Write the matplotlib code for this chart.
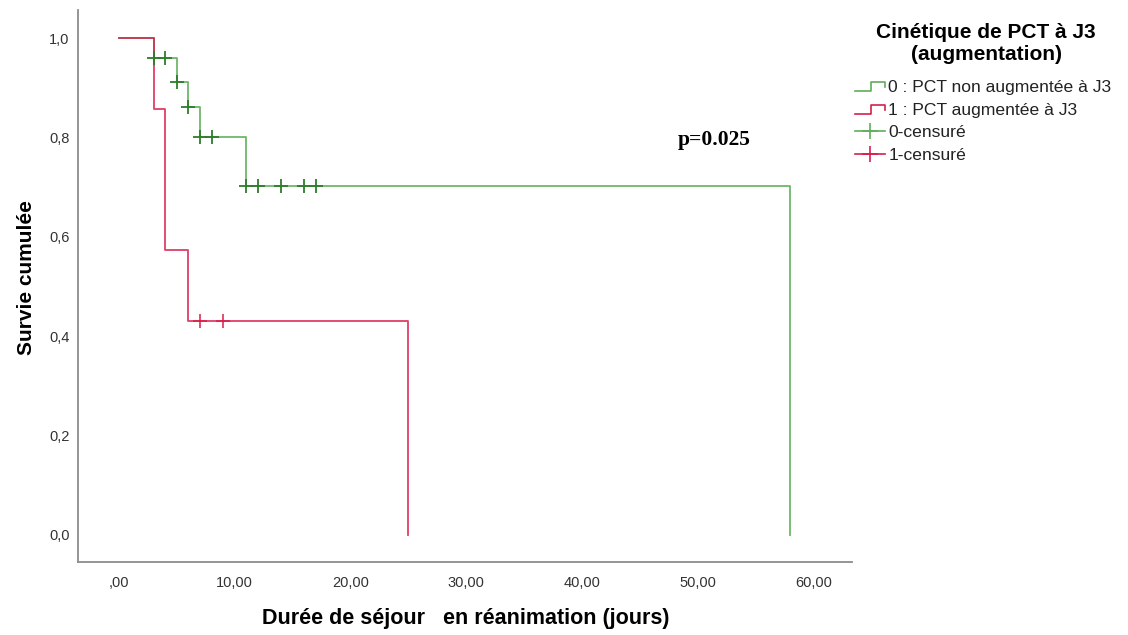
"""Courbes de Kaplan-Meier : survie selon la cinétique de la PCT à J3."""
import numpy as np
import matplotlib
matplotlib.use("Agg")
import matplotlib.pyplot as plt
from matplotlib.lines import Line2D
from matplotlib.legend_handler import HandlerBase
import matplotlib.ticker as tkr

plt.rcParams['font.family'] = ['Liberation Sans', 'DejaVu Sans']

# groupe 0 : PCT non augmentée à J3
t0 = [0, 3, 5, 6, 7, 11, 58]
s0 = [1.0, 0.961, 0.913, 0.861, 0.801, 0.703, 0.0]
cens0 = [3, 4, 5, 6, 7, 8, 11, 12, 14, 16, 17]

# groupe 1 : PCT augmentée à J3
t1 = [0, 3, 4, 6, 25]
s1 = [1.0, 0.858, 0.573, 0.430, 0.0]
cens1 = [7, 9]

labels = ["0 : PCT non augmentée à J3", "1 : PCT augmentée à J3",
          "0-censuré", "1-censuré"]
xticks = [0, 10, 20, 30, 40, 50, 60]
yticks = [0.0, 0.2, 0.4, 0.6, 0.8, 1.0]

c_green = "#5fae5a"
c_green_dark = "#2d7d2a"
c_red = "#d81e4c"


def surv_at(t, s, x):
    idx = np.searchsorted(t, x, side='right') - 1
    return np.asarray(s)[idx]


class StepHandler(HandlerBase):
    """petite icone en escalier comme dans SPSS"""
    def create_artists(self, legend, orig_handle, xdescent, ydescent,
                       width, height, fontsize, trans):
        x0, x1 = -xdescent, -xdescent + width
        y0, y1 = -ydescent + 0.1 * height, -ydescent + 0.8 * height
        xm = x0 + 0.55 * width
        xs = [x0, xm, xm, x1, x1]
        ys = [y0, y0, y1, y1, y0 + 0.3 * height]
        ln = Line2D(xs, ys, color=orig_handle.get_color(), lw=1.2,
                    transform=trans)
        return [ln]


fig = plt.figure(figsize=(11.28, 6.35), dpi=100)
ax = fig.add_axes([78 / 1128, 1 - 562 / 635, (852 - 78) / 1128, (562 - 10) / 635])

ax.step(t0, s0, where='post', color=c_green, lw=1.3, alpha=0.9, zorder=2)
ax.step(t1, s1, where='post', color=c_red, lw=1.3, alpha=0.85, zorder=3)

ax.plot(cens0, surv_at(t0, s0, cens0), ls='none', marker='+', ms=10, mew=1.3,
        color=c_green_dark, zorder=4)
ax.plot(cens1, surv_at(t1, s1, cens1), ls='none', marker='+', ms=10, mew=1.1,
        color=c_red, zorder=4)

ax.set_xlim(-3.54, 63.35)
ax.set_ylim(-0.0544, 1.057)
ax.set_xticks(xticks)
ax.set_yticks(yticks)
ax.xaxis.set_major_formatter(tkr.FuncFormatter(
    lambda v, p: ",00" if v == 0 else f"{v:.2f}".replace(".", ",")))
ax.yaxis.set_major_formatter(tkr.FuncFormatter(
    lambda v, p: f"{v:.1f}".replace(".", ",")))
ax.tick_params(length=0, labelsize=10.5, colors="#333333", pad=6)
ax.tick_params(axis='x', pad=10)

for side in ['top', 'right']:
    ax.spines[side].set_visible(False)
for side in ['left', 'bottom']:
    ax.spines[side].set_color("#8c8c8c")
    ax.spines[side].set_linewidth(1.3)

ax.set_xlabel("Durée de séjour   en réanimation (jours)", fontsize=15.5,
              fontweight='bold')
ax.set_ylabel("Survie cumulée", fontsize=15, fontweight='bold')
ax.xaxis.set_label_coords(0.501, -0.084)
ax.yaxis.set_label_coords(-0.054, 0.516)

ax.text(51.4, 0.795, "p=0.025", fontsize=15.5, fontweight='bold',
        family=['Liberation Serif', 'DejaVu Serif'], ha='center', va='center')

# titre de la légende
fig.text(986 / 1128, 1 - 43 / 635, "Cinétique de PCT à J3\n(augmentation)",
         fontsize=15, fontweight='bold', ha='center', va='center',
         linespacing=1.2)

h0 = Line2D([], [], color=c_green)
h1 = Line2D([], [], color=c_red)
h2 = Line2D([], [], color=c_green, marker='+', ms=11, mew=1.2, lw=1.2)
h3 = Line2D([], [], color=c_red, marker='+', ms=11, mew=1.2, lw=1.2)
leg = fig.legend([h0, h1, h2, h3], labels, loc='upper left',
                 bbox_to_anchor=(855 / 1128, 1 - 80 / 635),
                 frameon=False, fontsize=12.6, handlelength=1.7,
                 handletextpad=0.2, labelspacing=0.42, borderpad=0,
                 borderaxespad=0,
                 handler_map={h0: StepHandler(), h1: StepHandler()})
for txt in leg.get_texts():
    txt.set_color("#222222")

fig.savefig("out.png", dpi=100)
